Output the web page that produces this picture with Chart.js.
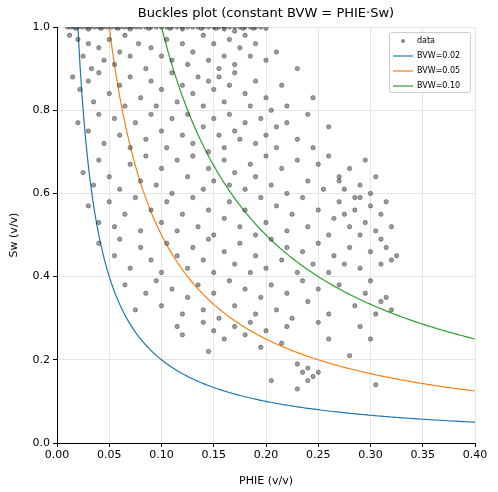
<!DOCTYPE html>
<html><head><meta charset="utf-8">
<script src="https://cdn.jsdelivr.net/npm/chart.js@4"></script>
<style>html,body{margin:0;padding:0;background:#fff}#w{width:498px;height:492px}</style>
</head><body><div id="w"><canvas id="c"></canvas></div>
<script>
const dataPairs = [
[0.010,1],[0.013,1],[0.016,1],[0.02,1],[0.024,1],[0.028,1],[0.032,1],[0.036,1],[0.04,1],[0.044,1],[0.048,1],[0.052,1],[0.056,1],[0.06,1],[0.064,1],[0.068,1],[0.072,1],[0.076,1],[0.08,1],[0.085,1],[0.09,1],[0.095,1],[0.1,1],[0.105,1],[0.11,1],[0.115,1],[0.12,1],[0.125,1],[0.13,1],[0.135,1],[0.14,1],[0.145,1],[0.15,1],[0.155,1],[0.16,1],[0.165,1],[0.17,1],[0.175,1],[0.18,1],[0.185,1],[0.19,1],[0.195,1],[0.03,0.995],[0.07,0.995],[0.12,0.995],[0.16,0.995],
[0.018,0.997],[0.042,0.997],[0.058,0.997],[0.088,0.997],[0.108,0.997],[0.138,0.997],[0.152,0.997],[0.178,0.997],[0.188,0.997],[0.2,0.997],
[0.012,0.98],[0.02,0.97],[0.025,0.93],[0.03,0.96],[0.033,0.9],[0.04,0.95],[0.045,0.92],[0.05,0.97],[0.055,0.91],[0.06,0.94],[0.065,0.98],[0.07,0.93],[0.078,0.96],[0.085,0.9],[0.09,0.95],[0.1,0.93],[0.105,0.97],[0.11,0.92],[0.12,0.96],[0.125,0.91],[0.13,0.94],[0.14,0.98],[0.145,0.92],[0.15,0.96],[0.16,0.93],[0.165,0.97],[0.17,0.91],[0.175,0.95],[0.18,0.98],[0.185,0.93],[0.19,0.96],[0.2,0.92],[0.21,0.94],[0.17,0.99],[0.155,0.9],
[0.015,0.88],[0.022,0.85],[0.03,0.87],[0.035,0.82],[0.04,0.89],[0.05,0.84],[0.06,0.86],[0.065,0.81],[0.07,0.88],[0.08,0.83],[0.09,0.87],[0.095,0.81],[0.1,0.85],[0.11,0.89],[0.115,0.82],[0.12,0.86],[0.13,0.84],[0.135,0.88],[0.14,0.81],[0.145,0.87],[0.15,0.85],[0.155,0.88],[0.16,0.82],[0.165,0.86],[0.17,0.89],[0.18,0.84],[0.185,0.81],[0.19,0.87],[0.2,0.83],[0.215,0.86],[0.22,0.81],[0.23,0.9],[0.245,0.83],
[0.02,0.77],[0.03,0.75],[0.04,0.79],[0.045,0.72],[0.055,0.78],[0.06,0.74],[0.07,0.71],[0.075,0.77],[0.085,0.73],[0.09,0.79],[0.1,0.75],[0.105,0.71],[0.11,0.78],[0.12,0.74],[0.125,0.79],[0.13,0.72],[0.14,0.76],[0.145,0.7],[0.15,0.78],[0.155,0.74],[0.16,0.71],[0.165,0.79],[0.17,0.75],[0.175,0.73],[0.18,0.77],[0.19,0.72],[0.195,0.78],[0.2,0.74],[0.205,0.8],[0.21,0.71],[0.22,0.77],[0.23,0.73],[0.24,0.79],[0.245,0.71],[0.26,0.76],[0.21,0.76],
[0.025,0.65],[0.035,0.62],[0.04,0.68],[0.05,0.64],[0.06,0.61],[0.07,0.67],[0.08,0.63],[0.085,0.69],[0.095,0.62],[0.1,0.66],[0.11,0.6],[0.115,0.68],[0.125,0.64],[0.13,0.69],[0.14,0.61],[0.145,0.66],[0.15,0.63],[0.16,0.68],[0.165,0.62],[0.17,0.65],[0.18,0.61],[0.185,0.67],[0.19,0.64],[0.2,0.69],[0.205,0.62],[0.215,0.66],[0.22,0.6],[0.23,0.68],[0.24,0.63],[0.25,0.67],[0.255,0.61],[0.26,0.69],[0.27,0.64],[0.275,0.61],[0.28,0.66],[0.29,0.62],[0.295,0.68],[0.3,0.6],[0.305,0.64],[0.27,0.63],[0.285,0.59],
[0.03,0.57],[0.04,0.53],[0.05,0.58],[0.055,0.52],[0.065,0.55],[0.075,0.59],[0.08,0.51],[0.09,0.56],[0.1,0.53],[0.105,0.58],[0.115,0.51],[0.12,0.55],[0.13,0.59],[0.135,0.52],[0.145,0.56],[0.15,0.5],[0.16,0.54],[0.165,0.58],[0.175,0.52],[0.18,0.56],[0.19,0.5],[0.195,0.59],[0.2,0.53],[0.21,0.57],[0.22,0.51],[0.225,0.55],[0.235,0.59],[0.24,0.52],[0.25,0.56],[0.26,0.5],[0.265,0.54],[0.27,0.58],[0.28,0.52],[0.285,0.56],[0.29,0.59],[0.295,0.53],[0.3,0.57],[0.305,0.51],[0.31,0.55],[0.315,0.58],[0.32,0.52],[0.275,0.55],[0.29,0.5],
[0.04,0.48],[0.055,0.45],[0.06,0.49],[0.07,0.42],[0.08,0.47],[0.09,0.44],[0.1,0.41],[0.105,0.48],[0.115,0.45],[0.125,0.42],[0.13,0.47],[0.14,0.44],[0.145,0.49],[0.15,0.41],[0.16,0.46],[0.17,0.43],[0.175,0.48],[0.185,0.41],[0.19,0.45],[0.2,0.42],[0.205,0.49],[0.215,0.44],[0.22,0.47],[0.23,0.41],[0.235,0.46],[0.245,0.43],[0.25,0.48],[0.26,0.41],[0.265,0.45],[0.275,0.43],[0.28,0.47],[0.29,0.42],[0.3,0.46],[0.31,0.43],[0.315,0.47],[0.32,0.44],[0.325,0.45],[0.31,0.49],
[0.065,0.38],[0.075,0.32],[0.085,0.36],[0.095,0.39],[0.1,0.33],[0.11,0.37],[0.12,0.31],[0.125,0.35],[0.135,0.38],[0.14,0.32],[0.15,0.36],[0.155,0.3],[0.165,0.39],[0.17,0.33],[0.18,0.37],[0.19,0.31],[0.195,0.35],[0.205,0.38],[0.21,0.32],[0.22,0.36],[0.225,0.3],[0.235,0.39],[0.24,0.34],[0.25,0.37],[0.26,0.31],[0.27,0.38],[0.285,0.33],[0.295,0.36],[0.305,0.31],[0.31,0.34],[0.315,0.35],[0.32,0.32],[0.3,0.39],
[0.14,0.29],[0.145,0.22],[0.15,0.27],[0.16,0.25],[0.17,0.28],[0.18,0.26],[0.185,0.29],[0.2,0.27],[0.205,0.15],[0.215,0.24],[0.22,0.28],[0.23,0.19],[0.235,0.17],[0.24,0.18],[0.245,0.16],[0.25,0.17],[0.24,0.15],[0.23,0.13],[0.26,0.25],[0.28,0.21],[0.3,0.25],[0.305,0.14],[0.25,0.29],[0.29,0.28],[0.195,0.23],[0.12,0.26],[0.115,0.28]
];
const bvwValues = [0.02, 0.05, 0.10];
const bvwLabels = ['BVW=0.02','BVW=0.05','BVW=0.10'];
const bvwColors = ['#1f77b4','#ff7f0e','#2ca02c'];
const xTicks = [0,0.05,0.1,0.15,0.2,0.25,0.3,0.35,0.4];
const yTicks = [0,0.2,0.4,0.6,0.8,1.0];

const phiGrid = [];
for (let p = 0.004; p <= 0.4001; p += 0.002) phiGrid.push(+p.toFixed(3));
const curveSets = bvwValues.map((b,i)=>({
  type:'line', label:bvwLabels[i], data:phiGrid.map(p=>({x:p,y:b/p})),
  borderColor:bvwColors[i], borderWidth:1.2, pointRadius:0, fill:false, tension:0
}));

const F = 'DejaVu Sans';
const legendPlugin = {
  id:'leg',
  afterDraw(ch){
    const c = ch.ctx, a = ch.chartArea;
    const x0 = a.right-86, y0 = a.top+5, w = 81, h = 60;
    c.save();
    c.fillStyle='rgba(255,255,255,0.85)'; c.strokeStyle='#ccc'; c.lineWidth=1;
    c.beginPath(); c.roundRect(x0+0.5,y0+0.5,w,h,2); c.fill(); c.stroke();
    c.font='8px '+F; c.fillStyle='#000'; c.textBaseline='middle';
    const rows=[['data',null]].concat(bvwLabels.map((l,i)=>[l,bvwColors[i]]));
    rows.forEach((r,i)=>{
      const yy = y0+9+i*15;
      if(!r[1]){ c.fillStyle='rgba(60,60,60,0.6)'; c.beginPath(); c.arc(x0+14,yy,2,0,7); c.fill(); c.fillStyle='#000'; }
      else { c.strokeStyle=r[1]; c.lineWidth=1.2; c.beginPath(); c.moveTo(x0+4,yy); c.lineTo(x0+24,yy); c.stroke(); }
      c.fillText(r[0], x0+28, yy);
    });
    c.font='13px '+F; c.textAlign='center'; c.textBaseline='middle';
    c.fillText('Buckles plot (constant BVW = PHIE·Sw)', (a.left+a.right)/2, 14);
    c.restore();
  }
};

new Chart(document.getElementById('c'), {
  type:'scatter',
  data:{datasets:[{
    label:'data', data:dataPairs.map(d=>({x:d[0],y:d[1]})),
    pointRadius:2.2, backgroundColor:'rgba(60,60,60,0.5)', borderColor:'rgba(20,20,20,0.5)', borderWidth:0.7
  }].concat(curveSets)},
  options:{
    responsive:true, maintainAspectRatio:false, animation:false,
    layout:{padding:{top:27,right:23,left:4,bottom:0}},
    plugins:{legend:{display:false},tooltip:{enabled:false}},
    scales:{
      x:{type:'linear',min:0,max:0.4,
        afterBuildTicks(s){s.ticks=xTicks.map(v=>({value:v}));},
        afterFit(s){s.height=49;},
        ticks:{font:{family:F,size:11},color:'#000',maxRotation:0,padding:2,callback:v=>v.toFixed(2)},
        grid:{color:'#e5e5e5',tickColor:'#000',tickLength:4},
        border:{color:'#000'},
        title:{display:true,text:'PHIE (v/v)',font:{family:F,size:11},color:'#000',padding:{top:0}}},
      y:{type:'linear',min:0,max:1,
        afterBuildTicks(s){s.ticks=yTicks.map(v=>({value:v}));},
        afterFit(s){s.width=53;},
        ticks:{font:{family:F,size:11},color:'#000',callback:v=>v.toFixed(1)},
        grid:{color:'#e5e5e5',tickColor:'#000',tickLength:4},
        border:{color:'#000'},
        title:{display:true,text:'Sw (v/v)',font:{family:F,size:11},color:'#000'}}
    }
  },
  plugins:[legendPlugin]
});
</script></body></html>
